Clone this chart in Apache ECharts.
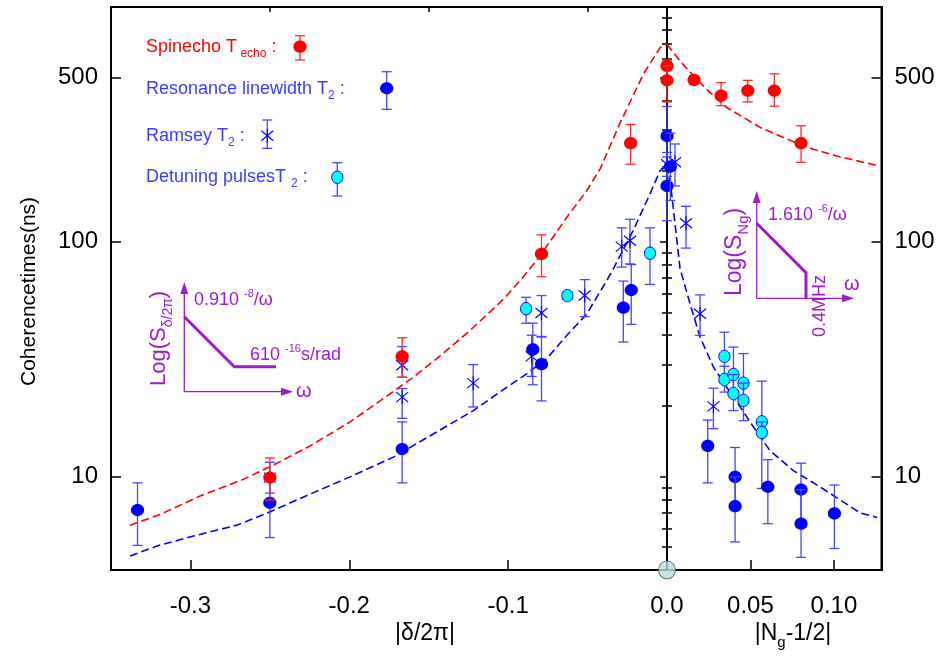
<!DOCTYPE html>
<html><head><meta charset="utf-8">
<script src="https://cdn.jsdelivr.net/npm/echarts@6/dist/echarts.min.js"></script>
<style>html,body{margin:0;padding:0;background:#fff}#c{width:941px;height:657px}</style>
</head><body><div id="c"></div>
<script>
// ---------- DATA: [x, T(ns), errLow, errHigh] ----------
const echoDelta = [[-0.25,9.9,7.94,12.0],[-0.1667,32.5,26.5,39],[-0.079,88.8,71,107],[-0.0229,263,214,316]];
const echoNg = [[0,561,487,594],[0,487,394,561],[0.0162,489,470,510],[0.0324,419,380,476],[0.0484,440,394,487],[0.0643,440,378,519],[0.0803,263,218,312]];
const linewidthDelta = [[-0.3333,7.2,5.09,9.4],[-0.25,7.73,5.5,10],[-0.1667,13.1,9.4,17.1],[-0.0845,34.8,24.6,45],[-0.079,30.1,21,39.3],[-0.0275,52.4,37.4,68],[-0.0225,62.3,44.5,80],[0,282,230,377],[0,173,123,209]];
const linewidthNg = [[0.002,209,150,290],[0.0244,13.5,9.4,17.4],[0.0408,9.97,7.48,13.3],[0.0408,7.48,5.27,9.97],[0.0604,9.04,6.3,11.8],[0.0803,8.8,6.3,11.4],[0.0803,6.3,4.53,8.8],[0.1003,6.97,4.94,9.2]];
const ramseyDelta = [[-0.25,9.9,8.5,11.5],[-0.1667,29.8,26.5,35.8],[-0.1667,21.8,17.7,23.7],[-0.122,25,19.8,30],[-0.0852,32.5,26.7,40],[-0.079,49.7,39.5,59],[-0.0518,59,48,69],[-0.0285,95.4,78,114.6],[-0.0233,101,80.5,124.7],[0,214,190,240]];
const ramseyNg = [[0.0048,218,173,261],[0.0114,120,94,141.6],[0.0198,49.4,39.9,59.4],[0.0278,19.9,16.0,23.8]];
const detuneDelta = [[-0.0887,51.9,45,58],[-0.0627,59,56.8,61],[-0.0107,89.4,65.8,114.6]];
const detuneNg = [[0.0344,32.5,26,41.2],[0.0344,25.9,22.9,29.5],[0.0398,27.2,22.6,35.6],[0.0398,22.6,19.1,27.2],[0.0458,25.0,21,33.4],[0.0458,21.1,17.3,25],[0.0568,17.1,15.4,25.5],[0.0568,15.4,8.9,17.1]];

// theory curves (dashed)
const echoTheoryDeltaX = [-0.338,-0.319,-0.294,-0.2667,-0.2456,-0.2247,-0.1995,-0.1806,-0.1597,-0.1449,-0.124,-0.1072,-0.1009,-0.0925,-0.082,-0.0631,-0.0505,-0.042,-0.0296,-0.0149,-0.0044,0];
const echoTheoryDeltaT = [6.21,6.9,8.26,9.73,11.4,13.5,17.1,21.0,26.5,31.8,41.9,53.5,59,68.4,83.2,127,165,205,320,517,671,694];
const echoTheoryNgX = [0,0.0008,0.0078,0.0178,0.0258,0.0358,0.0558,0.0718,0.0877,0.1017,0.1177,0.1265];
const echoTheoryNgT = [694,682,589,493,432,373,307,274,248,232,218,211];
const t2TheoryDeltaX = [-0.338,-0.3211,-0.2981,-0.2708,-0.2498,-0.2247,-0.1995,-0.1722,-0.1449,-0.1219,-0.1009,-0.0883,-0.0757,-0.0631,-0.0505,-0.0379,-0.0338,-0.0212,-0.0107,-0.0044,0];
const t2TheoryDeltaT = [4.59,5.06,5.58,6.21,7.08,8.42,9.97,12.1,15.5,19.1,24.0,27.4,31.8,39.9,49.3,68.4,76.7,112,160,201,211];
const t2TheoryNgX = [0,0.0028,0.0078,0.0138,0.0198,0.0278,0.0358,0.0438,0.0517,0.0617,0.0757,0.0917,0.1157,0.1259];
const t2TheoryNgT = [211,160,77,54.5,39.3,29.3,24.0,19.8,16.3,12.9,10.6,9.04,7.0,6.7];

// ticks
const yLabelValues = [10, 100, 500];
const yMinorValues = [5,6,7,8,9,20,30,40,50,60,70,80,90,200,300,400,600,700,800,900];
const deltaLabels = [-0.3,-0.2,-0.1,0];
const deltaMajor = [-0.3,-0.2,-0.1];
const deltaMinor = [-0.25,-0.15,-0.05];
const ngTicks = [0.05,0.10];

// ---------- helpers ----------
const FONT = '"Liberation Sans", Arial, Helvetica, sans-serif';
const L = v => Math.log10(v);
const yMin = L(4), yMax = 3;
const ctx = document.createElement('canvas').getContext('2d');
function tw(s, size){ ctx.font = size + 'px ' + FONT; return ctx.measureText(s).width; }
function textRun(x, y, parts, color, vertical){
  const out = []; let adv = 0;
  parts.forEach(([t, size, shift]) => {
    const c = shift - 0.35 * size;
    const st = {text:t, font: size + 'px ' + FONT, fill: color, textAlign:'left', textVerticalAlign:'middle', align:'left', verticalAlign:'middle'};
    if (!vertical) out.push({type:'text', x: x + adv, y: y + c, style: st, z: 50});
    else out.push({type:'text', x: x + c, y: y - adv, rotation: Math.PI/2, style: st, z: 50});
    adv += tw(t, size);
  });
  return out;
}
const RED = '#ff0000', BLUE = '#0000ff', BARBLUE = '#4646ff', BARRED = '#ff2a2a', PURPLE = '#9c1ccc';
const STY = {
  echo: {bar: BARRED, kind: 'dot', fill: RED},
  lw: {bar: BARBLUE, kind: 'dot', fill: BLUE},
  ramsey: {bar: BARBLUE, kind: 'star'},
  detune: {bar: BARBLUE, kind: 'cyan'}
};
function markShapes(key, px, py, yTop, yBot){
  const st = STY[key], cw = 5, lw = 1.3, ch = [];
  ch.push({type:'line', shape:{x1:px,y1:yTop,x2:px,y2:yBot}, style:{stroke:st.bar, lineWidth:lw}});
  ch.push({type:'line', shape:{x1:px-cw,y1:yTop,x2:px+cw,y2:yTop}, style:{stroke:st.bar, lineWidth:lw}});
  ch.push({type:'line', shape:{x1:px-cw,y1:yBot,x2:px+cw,y2:yBot}, style:{stroke:st.bar, lineWidth:lw}});
  if (st.kind === 'dot') {
    ch.push({type:'ellipse', shape:{cx:px, cy:py, rx:6.6, ry:6.1}, style:{fill:st.fill}});
  } else if (st.kind === 'cyan') {
    ch.push({type:'ellipse', shape:{cx:px, cy:py, rx:5.6, ry:6.2}, style:{fill:'#00ffff', stroke:BLUE, lineWidth:1}});
  } else {
    const s = 6, sy = 5;
    ch.push({type:'line', shape:{x1:px-s,y1:py-sy,x2:px+s,y2:py+sy}, style:{stroke:BLUE, lineWidth:1.2}});
    ch.push({type:'line', shape:{x1:px-s,y1:py+sy,x2:px+s,y2:py-sy}, style:{stroke:BLUE, lineWidth:1.2}});
    ch.push({type:'line', shape:{x1:px,y1:py-7,x2:px,y2:py+7}, style:{stroke:BLUE, lineWidth:1.2}});
  }
  return ch;
}
function errSeries(arr, key, xi, yi){
  return {
    type:'custom', xAxisIndex: xi, yAxisIndex: yi, z: 5, clip: false,
    encode:{x:0, y:1},
    data: arr.map(d => [d[0], L(d[1]), L(d[2]), L(d[3])]),
    renderItem: function(params, api){
      const x = api.value(0);
      const p = api.coord([x, api.value(1)]);
      const lo = api.coord([x, api.value(2)]);
      const hi = api.coord([x, api.value(3)]);
      return {type:'group', children: markShapes(key, p[0], p[1], hi[1], lo[1])};
    }
  };
}
function curve(xs, ts, color, xi, yi){
  return {type:'line', xAxisIndex: xi, yAxisIndex: yi, showSymbol:false, symbol:'none', z:2,
    data: xs.map((x,i)=>[x, L(ts[i])]),
    lineStyle:{color: color, width:1.6, type:[8,4]}, silent:true};
}

// ---------- axes ----------
const axLine = {show:true, onZero:false, lineStyle:{color:'#000', width:2}};
const tickStyle = {color:'#000', width:1.5};
const labelStyle = {fontSize:24, fontFamily:FONT, color:'#000'};
const yFmt = v => String(Math.round(Math.pow(10, v)));
const yMajorL = yLabelValues.map(L), yMinorL = yMinorValues.map(L);

function yAx(grid, pos, major, withLabel, len){
  return {gridIndex:grid, type:'value', position:pos, min:yMin, max:yMax,
    axisLine: withLabel ? axLine : {show:false},
    axisTick:{show:true, inside:true, length:len, customValues: major ? yMajorL : yMinorL, lineStyle: tickStyle},
    axisLabel: withLabel ? Object.assign({show:true, customValues: yMajorL, formatter: yFmt, margin:13}, labelStyle) : {show:false},
    splitLine:{show:false}};
}

const option = {
  animation:false,
  backgroundColor:'#fff',
  grid:[
    {left:111, top:7, width:556, height:563, show:true, borderColor:'#000', borderWidth:2, backgroundColor:'transparent'},
    {left:667, top:7, width:214.5, height:563, show:true, borderColor:'#000', borderWidth:2, backgroundColor:'transparent'}
  ],
  xAxis:[
    {gridIndex:0, type:'value', min:-0.35, max:0, interval:0.05, axisLine:axLine,
      axisTick:{show:true, inside:true, length:10, customValues: deltaMajor, lineStyle:tickStyle},
      axisLabel:Object.assign({customValues: deltaLabels, formatter: v => v.toFixed(1), margin:24}, labelStyle),
      splitLine:{show:false}},
    {gridIndex:0, type:'value', min:-0.35, max:0, interval:0.05, axisLine:{show:false},
      axisTick:{show:true, inside:true, length:5, customValues: deltaMinor, lineStyle:tickStyle},
      axisLabel:{show:false}, splitLine:{show:false}},
    {gridIndex:1, type:'value', min:0, max:0.1285, axisLine:axLine,
      axisTick:{show:true, inside:true, length:10, customValues: ngTicks, lineStyle:tickStyle},
      axisLabel:Object.assign({customValues: ngTicks, formatter: v => v.toFixed(2), margin:24}, labelStyle),
      splitLine:{show:false}}
  ],
  yAxis:[
    yAx(0,'left',true,true,10),
    yAx(0,'left',false,false,5),
    yAx(0,'right',true,false,7),
    yAx(0,'right',false,false,5),
    yAx(1,'right',true,true,10),
    yAx(1,'right',false,false,5)
  ],
  series:[
    curve(echoTheoryDeltaX, echoTheoryDeltaT, '#ff0000', 0, 0),
    curve(echoTheoryNgX, echoTheoryNgT, '#ff0000', 2, 4),
    curve(t2TheoryDeltaX, t2TheoryDeltaT, '#0000ee', 0, 0),
    curve(t2TheoryNgX, t2TheoryNgT, '#0000ee', 2, 4),
    errSeries(ramseyDelta, 'ramsey', 0, 0),
    errSeries(ramseyNg, 'ramsey', 2, 4),
    errSeries(detuneDelta, 'detune', 0, 0),
    errSeries(detuneNg, 'detune', 2, 4),
    errSeries(linewidthDelta, 'lw', 0, 0),
    errSeries(linewidthNg, 'lw', 2, 4),
    errSeries(echoDelta, 'echo', 0, 0),
    errSeries(echoNg, 'echo', 2, 4),
    {type:'scatter', xAxisIndex:2, yAxisIndex:4, data:[[0, yMin]], symbol:'circle', symbolSize:[17,18], clip:false, z:20,
      itemStyle:{color:'#b4dfdf', borderColor:'#555', borderWidth:1}, silent:true}
  ],
  graphic: []
};

// ---------- text & decorations ----------
const g = [];
// axis titles
g.push(...textRun(37, 386, [['Coherencetimes(ns)', 21, 0]], '#000', true));
(function(){ const w = tw('|δ/2π|', 23); g.push(...textRun(425 - w/2, 642, [['|δ/2π|', 23, 0]], '#000', false)); })();
(function(){ const parts = [['|N', 23, 0], ['g', 15, 6], ['-1/2|', 23, 0]];
  const w = parts.reduce((a,p)=>a+tw(p[0],p[1]),0); g.push(...textRun(793 - w/2, 642, parts, '#000', false)); })();

// legend
const LBLUE = '#3c3cff';
g.push(...textRun(146, 53, [['Spinecho T', 18, 0], [' echo', 12, 5], [' :', 18, 0]], RED, false));
g.push(...textRun(146, 95, [['Resonance linewidth T', 18, 0], ['2', 12, 5], [' :', 18, 0]], LBLUE, false));
g.push(...textRun(146, 142, [['Ramsey T', 18, 0], ['2', 12, 5], [' :', 18, 0]], LBLUE, false));
g.push(...textRun(146, 183, [['Detuning pulsesT ', 18, 0], ['2', 12, 5], [' :', 18, 0]], LBLUE, false));
g.push({type:'group', z:50, children: markShapes('echo', 300, 46.7, 35.7, 60)});
g.push({type:'group', z:50, children: markShapes('lw', 386.7, 88.3, 71.7, 109.3)});
g.push({type:'group', z:50, children: markShapes('ramsey', 267.3, 135.7, 120, 148.3)});
g.push({type:'group', z:50, children: markShapes('detune', 337.3, 177.3, 162.7, 196)});

// inset 1
const pl = (pts, w) => ({type:'polyline', shape:{points:pts}, style:{stroke:PURPLE, lineWidth:w, fill:null}, z:40});
const tri = pts => ({type:'polygon', shape:{points:pts}, style:{fill:PURPLE}, z:40});
g.push(pl([[184.3,391.7],[184.3,292]],1.3), tri([[184.3,282],[180.3,294],[188.3,294]]));
g.push(pl([[184.3,391.7],[283,391.7]],1.3), tri([[293,391.7],[281,387.7],[281,395.7]]));
g.push(pl([[184.3,316.7],[234.3,366.7],[276,366.7]],3));
g.push(...textRun(194, 306, [['0.910 ', 18, 0], ['-8', 11, -8], ['/ω', 18, 0]], PURPLE, false));
g.push(...textRun(250, 361, [['610 ', 18, 0], ['-16', 11, -8], ['s/rad', 18, 0]], PURPLE, false));
g.push(...textRun(296, 398, [['ω', 20, 0]], PURPLE, false));
g.push(...textRun(167, 386, [['Log(S', 22, 0], ['δ/2π', 14, 6], [')', 22, 0]], PURPLE, true));

// inset 2
g.push(pl([[756.7,298.3],[756.7,201]],1.3), tri([[756.7,191],[752.7,203],[760.7,203]]));
g.push(pl([[756.7,298.3],[844,298.3]],1.3), tri([[854,298.3],[842,294.3],[842,302.3]]));
g.push(pl([[756.7,223.3],[806,272.7],[806,298.3]],3));
g.push(...textRun(768, 221, [['1.610 ', 18, 0], ['-6', 11, -8], ['/ω', 18, 0]], PURPLE, false));
g.push(...textRun(844, 291, [['ω', 20, 0]], PURPLE, false));
g.push(...textRun(826, 337, [['0.4MHz', 18, 0]], PURPLE, true));
g.push(...textRun(743, 296, [['Log(S', 23, 0], ['Ng', 15, 6], [')', 23, 0]], PURPLE, true));

option.graphic = g;

const chart = echarts.init(document.getElementById('c'), null, {renderer:'canvas'});
chart.setOption(option);
</script></body></html>
